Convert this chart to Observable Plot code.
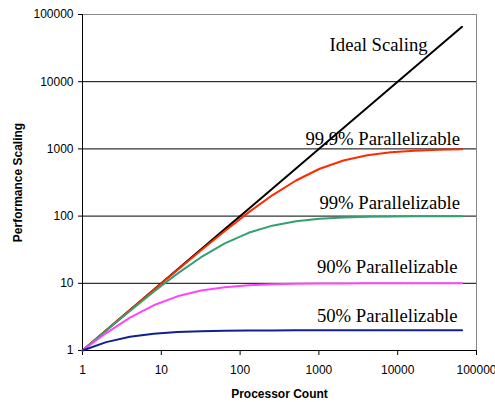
<!DOCTYPE html>
<html><head><meta charset="utf-8">
<script src="https://cdn.jsdelivr.net/npm/d3@7"></script>
<script src="https://cdn.jsdelivr.net/npm/@observablehq/plot@0.6"></script>
<style>body{margin:0;background:#fff;} svg{display:block;}</style>
</head><body><div id="chart"></div>
<script>
const processors = [1,2,4,8,16,32,64,128,256,512,1024,2048,4096,8192,16384,32768,65536];
const ideal = [1,2,4,8,16,32,64,128,256,512,1024,2048,4096,8192,16384,32768,65536];
const p999 = [1,1.998,3.988,7.944,15.76,31.04,60.21,113.6,204.0,338.8,506.2,672.1,803.9,891.3,942.5,970.4,985.0];
const p99 = [1,1.980,3.883,7.477,13.91,24.43,39.26,56.39,72.11,83.80,91.18,95.39,97.64,98.80,99.40,99.70,99.85];
const p90 = [1,1.818,3.077,4.706,6.4,7.805,8.767,9.343,9.660,9.827,9.913,9.956,9.978,9.989,9.995,9.997,9.999];
const p50 = [1,1.333,1.6,1.778,1.882,1.939,1.969,1.984,1.992,1.996,1.998,1.999,2.0,2.0,2.0,2.0,2.0];
const seriesNames = ["Ideal Scaling","99.9% Parallelizable","99% Parallelizable","90% Parallelizable","50% Parallelizable"];
const seriesValues = [ideal,p999,p99,p90,p50];
const seriesColors = ["#000000","#ff2a00","#33a070","#ff44ff","#10208f"];
const xTicks = [1,10,100,1000,10000,100000];
const yTicks = [1,10,100,1000,10000,100000];
const xLabel = "Processor Count";
const yLabel = "Performance Scaling";

const rows = [];
seriesNames.forEach((s,i)=>processors.forEach((n,j)=>rows.push({series:s,n,v:seriesValues[i][j]})));

const labelOffsets = [null, [-2, -4.5], [-2, -7.5], [-4.5, -10], [-4.5, -8.5]];
const serif = "'Liberation Serif', 'Times New Roman', serif";
const last = processors.length - 1;

const labelMarks = seriesNames.slice(1).map((name, k) => {
  const i = k + 1;
  return Plot.text([name], {
    x: [processors[last]], y: [seriesValues[i][last]], text: d => d,
    dx: labelOffsets[i][0], dy: labelOffsets[i][1],
    textAnchor: "end", lineAnchor: "bottom", fontFamily: serif, fontSize: 18.7, fill: "#000"
  });
});

const chart = Plot.plot({
  width: 495, height: 402,
  marginLeft: 82, marginRight: 19, marginTop: 14, marginBottom: 52,
  style: {fontFamily: "'Liberation Sans', Arial, sans-serif", fontSize: "12px", background: "#fff", color: "#000"},
  x: {type: "log", domain: [1, 100000]},
  y: {type: "log", domain: [1, 100000]},
  color: {domain: seriesNames, range: seriesColors},
  marks: [
    Plot.ruleY(yTicks.slice(1, -1), {stroke: "#000", strokeWidth: 1}),
    Plot.ruleY([100000], {stroke: "#888", strokeWidth: 1}),
    Plot.ruleX([100000], {stroke: "#888", strokeWidth: 1}),
    Plot.axisX({ticks: xTicks, tickFormat: d => String(d), tickSize: 5, tickPadding: 10, label: null, fontSize: 12}),
    Plot.axisY({ticks: yTicks, tickFormat: d => String(d), tickSize: 4, tickPadding: 5, label: null, fontSize: 12}),
    Plot.ruleX([1], {stroke: "#000", strokeWidth: 1}),
    Plot.ruleY([1], {stroke: "#000", strokeWidth: 1}),
    Plot.line(rows, {x: "n", y: "v", z: "series", stroke: "series", strokeWidth: 2}),
    ...labelMarks,
    Plot.text([seriesNames[0]], {x: [24000], y: [30000], text: d => d, dy: 1, textAnchor: "end", lineAnchor: "bottom", fontFamily: serif, fontSize: 18.7, fill: "#000"}),
    Plot.text([xLabel], {frameAnchor: "bottom", dy: 47, text: d => d, textAnchor: "middle", fontWeight: "bold", fontSize: 12, fill: "#000"}),
    Plot.text([yLabel], {frameAnchor: "left", dx: -64, rotate: -90, text: d => d, textAnchor: "middle", fontWeight: "bold", fontSize: 12, fill: "#000"})
  ]
});
document.getElementById("chart").appendChild(chart);
</script></body></html>
